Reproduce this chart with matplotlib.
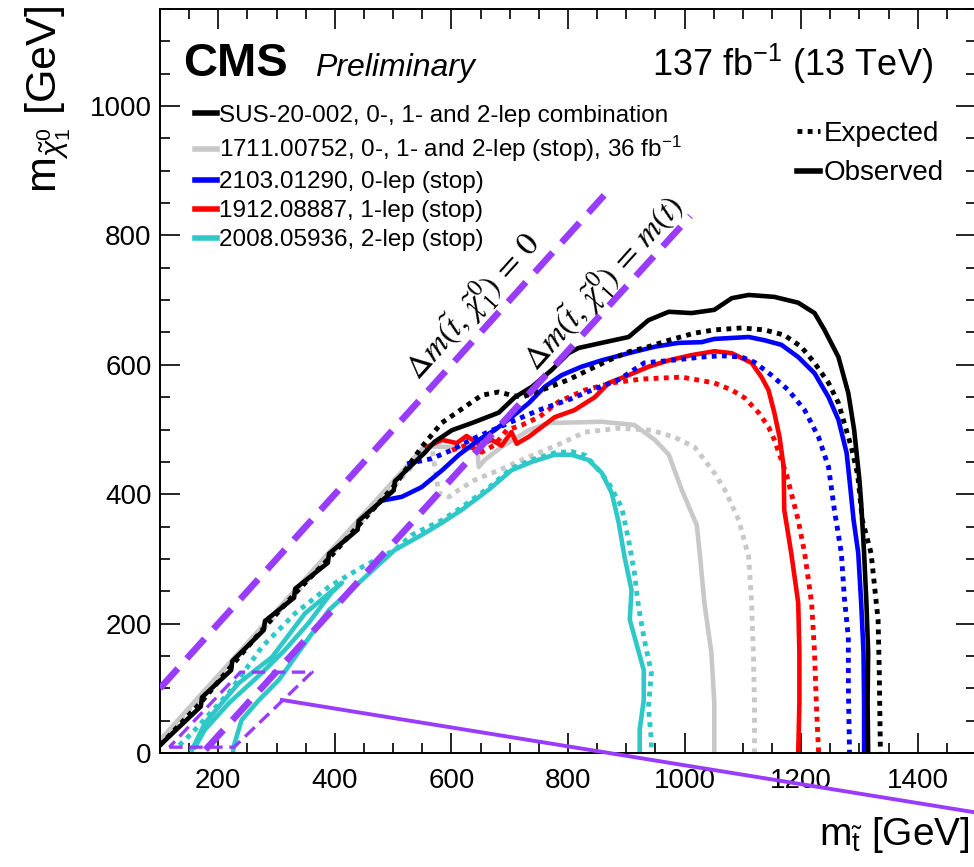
import matplotlib
matplotlib.use('Agg')
import matplotlib.pyplot as plt
from matplotlib.lines import Line2D
from matplotlib.ticker import MultipleLocator

plt.rcParams['font.family'] = ['Liberation Sans', 'DejaVu Sans']
plt.rcParams['mathtext.fontset'] = 'custom'
plt.rcParams['mathtext.rm'] = 'Liberation Sans'
plt.rcParams['mathtext.it'] = 'Liberation Sans:italic'
plt.rcParams['mathtext.bf'] = 'Liberation Sans:bold'

##### LIMIT CONTOURS (m_stop, m_lsp) in GeV #####

# SUS-20-002 combination
comb_obs_x = [100, 170, 172, 222, 224, 278, 280, 330, 332, 388, 390, 439, 441, 501, 503, 554, 571, 601, 635,
              681, 709, 738, 772, 801, 818, 858, 904, 938, 973, 1012, 1051, 1081, 1110, 1154, 1195, 1223,
              1240, 1264, 1281, 1291, 1300, 1303, 1308, 1312, 1315, 1314, 1315]
comb_obs_y = [12, 72, 86, 128, 142, 190, 204, 240, 254, 294, 308, 345, 359, 406, 420, 464, 481, 499, 510,
              526, 550, 566, 592, 618, 626, 634, 643, 669, 682, 680, 685, 703, 708, 705, 696, 680,
              654, 612, 556, 499, 422, 386, 309, 232, 155, 77, 0]
comb_exp_x = [100, 172, 224, 280, 332, 390, 441, 503, 549, 583, 623, 652, 681, 703, 721, 755, 801, 835, 870,
              904, 938, 973, 1017, 1051, 1098, 1137, 1171, 1200, 1223, 1247, 1264, 1274, 1286, 1297, 1305,
              1320, 1326, 1332, 1334, 1336]
comb_exp_y = [12, 80, 136, 195, 247, 301, 352, 414, 473, 510, 535, 553, 558, 553, 550, 561, 577, 592, 607,
              620, 628, 638, 649, 654, 657, 654, 646, 628, 603, 572, 541, 510, 473, 430, 360,
              309, 257, 206, 128, 0]

# 1711.00752 (2016 data)
old_obs_x = [100, 554, 601, 630, 644, 647, 657, 686, 733, 767, 858, 914, 949, 973, 995, 1021, 1026, 1034,
             1046, 1051, 1051]
old_obs_y = [20, 474, 473, 471, 473, 442, 453, 473, 499, 510, 512, 507, 484, 461, 407, 352, 309, 232,
             155, 77, 0]
old_exp_x = [100, 566, 578, 596, 613, 640, 681, 721, 760, 789, 829, 887, 943, 983, 1017, 1051, 1069, 1093,
             1110, 1115, 1118, 1120, 1120]
old_exp_y = [18, 476, 402, 396, 407, 422, 437, 453, 468, 479, 496, 502, 499, 488, 473, 433, 407, 360,
             303, 232, 155, 77, 0]

# 2103.01290, 0-lep
zl_obs_x = [486, 515, 549, 584, 613, 647, 674, 703, 733, 760, 789, 823, 858, 904, 949, 990, 1029, 1051,
            1110, 1137, 1166, 1195, 1223, 1247, 1264, 1278, 1283, 1290, 1298, 1303, 1307, 1308, 1308]
zl_obs_y = [391, 396, 411, 437, 461, 484, 499, 519, 541, 566, 584, 597, 607, 618, 628, 634, 635, 640,
            643, 638, 631, 612, 587, 550, 515, 464, 422, 360, 309, 232, 155, 77, 0]
zl_exp_x = [524, 566, 600, 635, 698, 750, 801, 841, 887, 931, 978, 1029, 1063, 1098, 1120, 1149, 1178,
            1206, 1230, 1247, 1257, 1269, 1274, 1281, 1281, 1283]
zl_exp_y = [447, 455, 468, 485, 510, 530, 546, 561, 577, 603, 607, 612, 614, 612, 604, 584, 561,
            530, 488, 442, 376, 309, 241, 179, 102, 0]

# 1912.08887, 1-lep
ol_obs_x = [558, 584, 609, 626, 649, 669, 686, 703, 712, 733, 755, 777, 811, 846, 870, 904, 938, 973,
            1012, 1051, 1081, 1115, 1132, 1144, 1154, 1163, 1170, 1171, 1183, 1195, 1197, 1197, 1195]
ol_obs_y = [473, 484, 479, 490, 476, 484, 475, 496, 478, 489, 504, 519, 530, 550, 572, 584, 597, 607,
            615, 621, 618, 603, 581, 561, 526, 488, 442, 376, 309, 232, 155, 77, 0]
ol_exp_x = [601, 626, 652, 674, 695, 721, 750, 784, 829, 875, 926, 995, 1051, 1081, 1103, 1127, 1144,
            1154, 1175, 1195, 1206, 1218, 1223, 1226, 1230]
ol_exp_y = [468, 476, 465, 476, 499, 507, 519, 543, 561, 572, 578, 581, 572, 561, 549, 526, 504,
            484, 430, 360, 309, 232, 155, 77, 0]

# 2008.05936, 2-lep
tl_obs_x = [225, 227, 240, 270, 304, 349, 390, 446, 503, 549, 584, 618, 664, 703, 738, 777, 806, 835,
            858, 875, 887, 897, 909, 906, 918, 930, 930, 923, 923]
tl_obs_y = [0, 12, 51, 82, 113, 170, 221, 267, 314, 337, 356, 376, 407, 437, 450, 461, 461, 453,
            433, 402, 356, 303, 252, 206, 167, 128, 82, 36, 0]
tl_island_x = [160, 177, 218, 275, 314, 355, 395, 412, 349, 292, 235, 177, 155]
tl_island_y = [9, 36, 77, 124, 159, 201, 249, 263, 216, 148, 108, 46, 5]
tl_exp_x = [133, 155, 218, 275, 332, 390, 446, 503, 532, 584, 618, 664, 703, 738, 777, 806, 830, 850,
            870, 892, 904, 914, 921, 931, 943, 938, 943, 943]
tl_exp_y = [12, 31, 93, 164, 216, 257, 287, 314, 337, 360, 380, 410, 440, 453, 464, 466, 460, 440,
            417, 380, 329, 278, 226, 175, 124, 71, 20, 0]

##### ANNOTATIONS #####

dm0_x = [100, 862]
dm0_y = [100, 862]
dmt_x = [178, 1010]
dmt_y = [5, 830]
box_x = [116, 227, 361, 238, 116]
box_y = [9, 9, 125, 125, 9]
call_x = [309, 1500]
call_y = [82, -92]

legend_labels = ['SUS-20-002, 0-, 1- and 2-lep combination',
                 '1711.00752, 0-, 1- and 2-lep (stop), 36 fb$^{-1}$',
                 '2103.01290, 0-lep (stop)',
                 '1912.08887, 1-lep (stop)',
                 '2008.05936, 2-lep (stop)']
colors = ['black', '#c8c8c8', '#0000ff', '#ff0000', '#2ec8c8']
purple = '#9a3cff'

LW = 3.3
DOT = (0, (1, 1.1))


def draw_limit(ax, obs, exp, color):
    ax.plot(exp[0], exp[1], color=color, lw=3.5, ls=DOT, dash_capstyle='butt')
    ax.plot(obs[0], obs[1], color=color, lw=LW, solid_joinstyle='round')


fig = plt.figure(figsize=(9.74, 8.67), dpi=100)
ax = fig.add_axes([160 / 974, 114 / 867, 816 / 974, 744 / 867])

draw_limit(ax, (old_obs_x, old_obs_y), (old_exp_x, old_exp_y), colors[1])
draw_limit(ax, (tl_obs_x, tl_obs_y), (tl_exp_x, tl_exp_y), colors[4])
ax.plot(tl_island_x, tl_island_y, color=colors[4], lw=LW)
draw_limit(ax, (ol_obs_x, ol_obs_y), (ol_exp_x, ol_exp_y), colors[3])
draw_limit(ax, (zl_obs_x, zl_obs_y), (zl_exp_x, zl_exp_y), colors[2])
draw_limit(ax, (comb_obs_x, comb_obs_y), (comb_exp_x, comb_exp_y), colors[0])

# kinematic lines added on top
ax.plot(dm0_x, dm0_y, color=purple, lw=4.8, ls=(0, (4, 2)), zorder=5)
ax.plot(dmt_x, dmt_y, color=purple, lw=4.8, ls=(0, (4, 2)), zorder=5)
ax.plot(box_x, box_y, color=purple, lw=2.4, ls=(0, (4, 2)), zorder=5)
ax.plot(call_x, call_y, color=purple, lw=2.8, zorder=5, clip_on=False)

ax.text(637, 690, r'$\Delta m(\tilde{t},\,\tilde{\chi}_1^0)\,=\,0$', rotation=48, rotation_mode='anchor',
        ha='center', va='center', fontsize=24, math_fontfamily='stix')
ax.text(862, 725, r'$\Delta m(\tilde{t},\,\tilde{\chi}_1^0)\,=\,m(t)$', rotation=48, rotation_mode='anchor',
        ha='center', va='center', fontsize=24, math_fontfamily='stix')

ax.set_xlim(100, 1500)
ax.set_ylim(0, 1150)
ax.xaxis.set_major_locator(MultipleLocator(200))
ax.xaxis.set_minor_locator(MultipleLocator(50))
ax.yaxis.set_major_locator(MultipleLocator(200))
ax.yaxis.set_minor_locator(MultipleLocator(50))
ax.tick_params(which='both', direction='in', top=True, right=True, width=1.2)
ax.tick_params(which='major', length=14.5, labelsize=20)
ax.tick_params(which='minor', length=7.5)
ax.tick_params(axis='x', pad=11)
ax.tick_params(axis='y', pad=6)
for s in ax.spines.values():
    s.set_linewidth(1.4)

# legends
h1 = [Line2D([], [], color=c, lw=4) for c in colors]
leg1 = ax.legend(h1, legend_labels, loc='upper left', bbox_to_anchor=(0.043, 0.871), frameon=False,
                 fontsize=17.5, handlelength=0.9, handletextpad=0.1, labelspacing=0.29,
                 borderpad=0, borderaxespad=0)
ax.add_artist(leg1)
h2 = [Line2D([], [], color='black', lw=3.5, ls=DOT), Line2D([], [], color='black', lw=4)]
ax.legend(h2, ['Expected', 'Observed'], loc='upper left', bbox_to_anchor=(0.7806, 0.850), frameon=False,
          fontsize=20, handlelength=0.83, handletextpad=0.12, labelspacing=0.5,
          borderpad=0, borderaxespad=0)

fig.text(183 / 974, 1 - 76 / 867, 'CMS', fontsize=34, fontweight='bold', va='baseline')
fig.text(315 / 974, 1 - 76 / 867, 'Preliminary', fontsize=23, style='italic', va='baseline')
fig.text(933 / 974, 1 - 76 / 867, '137 fb$^{-1}$ (13 TeV)', fontsize=26, ha='right', va='baseline')

fig.text(0.049, 0.994, r'm$_{\tilde{\chi}^{0}_{1}}$ [GeV]', rotation=90, ha='center', va='top', fontsize=31)
fig.text(970 / 974, 1 - 845 / 867, r'm$_{\tilde{\mathrm{t}}}$ [GeV]', ha='right', va='baseline', fontsize=28)

fig.savefig('out.png', dpi=100)
